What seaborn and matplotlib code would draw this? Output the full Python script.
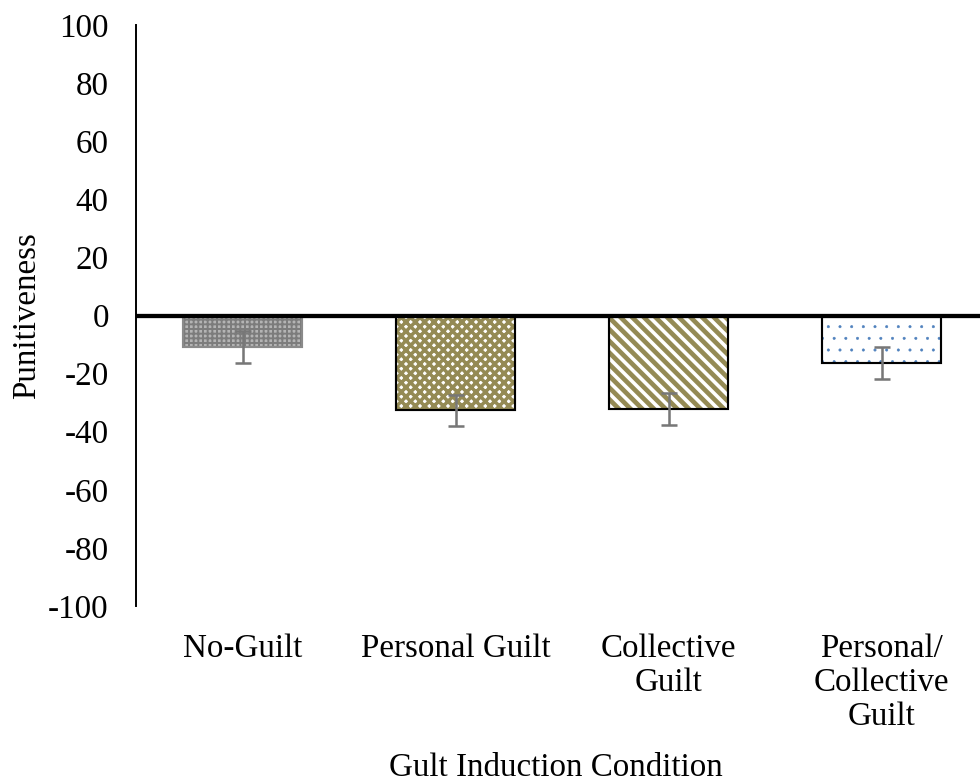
import matplotlib
matplotlib.use("Agg")
import matplotlib.pyplot as plt
import seaborn as sns
import pandas as pd
from matplotlib.colors import to_rgba

# data
conditions = ["No-Guilt", "Personal Guilt", "Collective\nGuilt", "Personal/\nCollective\nGuilt"]
means = [-10.8, -32.7, -32.2, -16.4]
errors = [5.6, 5.5, 5.5, 5.4]
y_ticks = list(range(-100, 101, 20))

# styling per bar
face_colors = ["#b4b4b4", "#ffffff", "#ffffff", "#ffffff"]
hatch_colors = ["#7c7c7c", "#948a54", "#948a54", "#4f81bd"]
edge_colors = ["#8a8a8a", "#000000", "#000000", "#000000"]
hatches = ["+++++", "xxxxx", "\\\\\\\\", ".."]
hatch_widths = [1.0, 1.8, 2.4, 0.3]

sns.set_style("white")
plt.rcParams["font.family"] = ["Liberation Serif", "DejaVu Serif"]
plt.rcParams["text.color"] = "black"
plt.rcParams["xtick.color"] = "black"
plt.rcParams["ytick.color"] = "black"
plt.rcParams["axes.labelcolor"] = "black"
plt.rcParams["hatch.linewidth"] = 1.6

df = pd.DataFrame({"condition": conditions, "value": means})

fig = plt.figure(figsize=(980 / 140, 782 / 140), dpi=140)
ax = fig.add_axes([136 / 980, 1 - 606 / 782, 852 / 980, 581 / 782])

sns.barplot(data=df, x="condition", y="value", hue="condition",
            palette=face_colors, width=0.56, legend=False,
            errorbar=None, ax=ax, saturation=1)

for patch, hc, ec, h, hw in zip(ax.patches, hatch_colors, edge_colors, hatches, hatch_widths):
    patch.set_edgecolor(ec)
    patch.set_linewidth(1.1)
    patch.set_hatch(h)
    patch._hatch_color = to_rgba(hc)
    if hasattr(patch, "set_hatch_linewidth"):
        patch.set_hatch_linewidth(hw)

ax.errorbar(range(len(means)), means, yerr=errors, fmt="none",
            ecolor="#777777", elinewidth=1.3, capsize=4.3, capthick=1.3, zorder=5)

ax.axhline(0, color="black", lw=2.2, zorder=6)

ax.set_xlim(-0.5, 3.5)
ax.set_ylim(-100, 100)
ax.set_yticks(y_ticks)
ax.set_yticklabels([str(t) for t in y_ticks])

for side in ["top", "right", "bottom"]:
    ax.spines[side].set_visible(False)
ax.spines["left"].set_color("black")
ax.spines["left"].set_linewidth(1.0)

ax.tick_params(axis="y", length=0, pad=14, labelsize=17)
ax.tick_params(axis="x", length=0, pad=14, labelsize=17)
for lbl in ax.get_xticklabels():
    lbl.set_linespacing(1.15)

ax.set_xlabel("Gult Induction Condition", fontsize=17)
ax.xaxis.set_label_coords(0.493, -0.252)
ax.set_ylabel("Punitiveness", fontsize=17)
ax.yaxis.set_label_coords(-0.110, 0.5)

fig.savefig("out.png", dpi=140)
plt.close(fig)
